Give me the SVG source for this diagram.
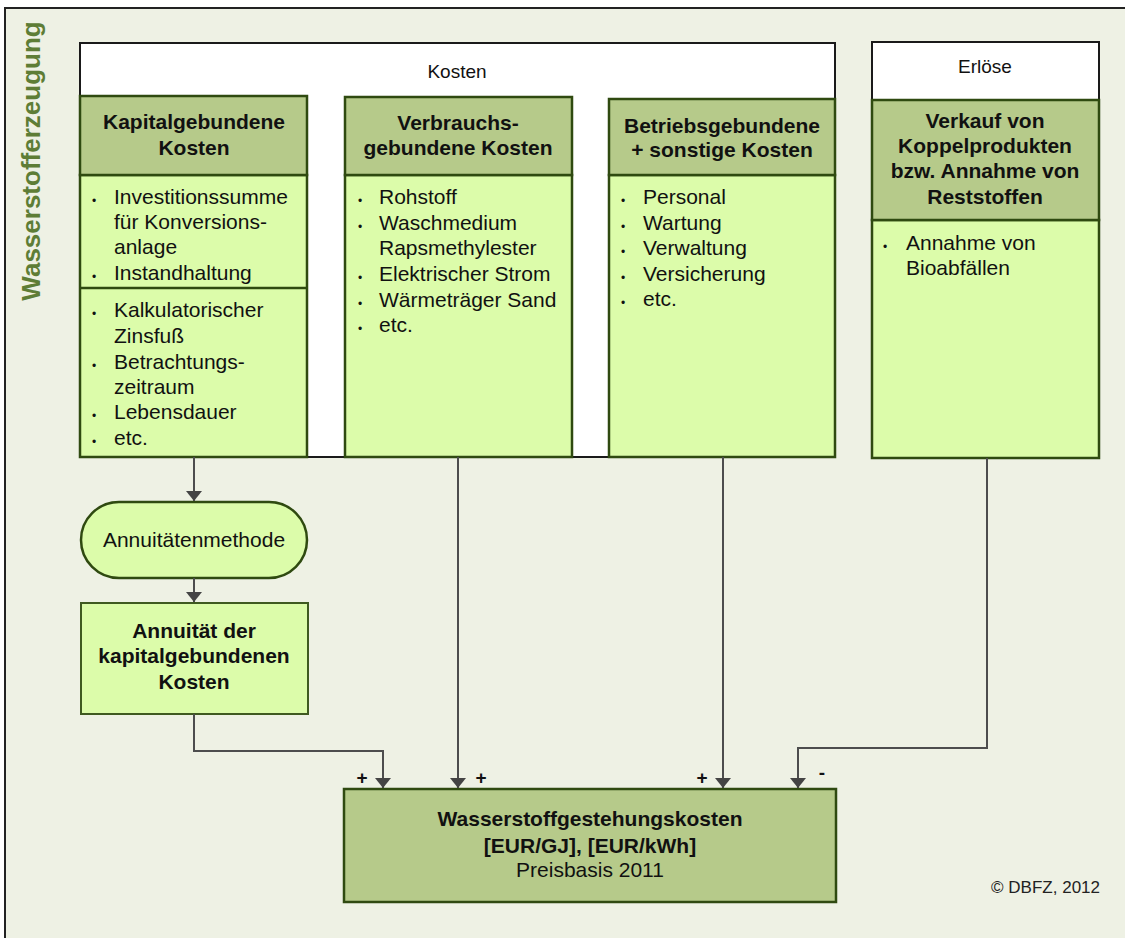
<svg xmlns="http://www.w3.org/2000/svg" width="1125" height="938" viewBox="0 0 1125 938">
<defs>
<style>
text{font-family:"Liberation Sans",Arial,sans-serif;fill:#111}
.b{font-weight:bold;font-size:21px}
.r{font-size:21px}
.c{text-anchor:middle}
.bul{font-size:12px}
.hdr{fill:#B6CA8A;stroke:#2F4A10;stroke-width:2.5}
.body{fill:#DCFCAA;stroke:#2F4A10;stroke-width:2.5}
.wh{fill:#FFFFFF;stroke:#1A1A1A;stroke-width:2}
.ln{fill:none;stroke:#4D4D4D;stroke-width:2}
.sg{font-size:19px;font-weight:bold}
</style>
<marker id="ah" markerUnits="userSpaceOnUse" markerWidth="18" markerHeight="12" viewBox="0 0 18 12" refX="9" refY="11" orient="0">
<path d="M1,1 L17,1 L9,11 Z" fill="#444444"/>
</marker>
</defs>

<g id="frame">
<rect x="5" y="8" width="1130" height="940" fill="#EEF1E4" stroke="#222222" stroke-width="2"/>
<text x="0" y="0" transform="translate(40,161) rotate(-90)" class="c" style="font-size:26px;font-weight:bold;fill:#5E7D36">Wasserstofferzeugung</text>
</g>

<g id="kosten">
<rect class="wh" x="80" y="43" width="755" height="414"/>
<text class="r c" x="457" y="78" style="font-size:19px">Kosten</text>
</g>

<g id="kapital">
<rect class="body" x="80" y="175" width="227" height="282"/>
<rect class="hdr" x="80" y="96" width="227" height="79"/>
<line x1="80" y1="288" x2="307" y2="288" stroke="#2F4A10" stroke-width="2.5"/>
<text class="b c" x="194" y="129">Kapitalgebundene</text>
<text class="b c" x="194" y="155">Kosten</text>
<g class="bul"><text x="92" y="205">•</text><text x="92" y="281">•</text><text x="92" y="318">•</text><text x="92" y="370">•</text><text x="92" y="420">•</text><text x="92" y="446">•</text></g>
<text class="r" x="114" y="204">Investitionssumme</text>
<text class="r" x="114" y="229">für Konversions-</text>
<text class="r" x="114" y="254">anlage</text>
<text class="r" x="114" y="280">Instandhaltung</text>
<text class="r" x="114" y="317">Kalkulatorischer</text>
<text class="r" x="114" y="343">Zinsfuß</text>
<text class="r" x="114" y="369">Betrachtungs-</text>
<text class="r" x="114" y="394">zeitraum</text>
<text class="r" x="114" y="419">Lebensdauer</text>
<text class="r" x="114" y="445">etc.</text>
</g>

<g id="verbrauch">
<rect class="body" x="345" y="175" width="227" height="282"/>
<rect class="hdr" x="345" y="97" width="227" height="78"/>
<text class="b c" x="458" y="130">Verbrauchs-</text>
<text class="b c" x="458" y="155">gebundene Kosten</text>
<g class="bul"><text x="358" y="205">•</text><text x="358" y="231">•</text><text x="358" y="282">•</text><text x="358" y="308">•</text><text x="358" y="333">•</text></g>
<text class="r" x="379" y="204">Rohstoff</text>
<text class="r" x="379" y="230">Waschmedium</text>
<text class="r" x="379" y="255">Rapsmethylester</text>
<text class="r" x="379" y="281">Elektrischer Strom</text>
<text class="r" x="379" y="307">Wärmeträger Sand</text>
<text class="r" x="379" y="332">etc.</text>
</g>

<g id="betrieb">
<rect class="body" x="609" y="175" width="226" height="282"/>
<rect class="hdr" x="609" y="99" width="226" height="76"/>
<text class="b c" x="722" y="133">Betriebsgebundene</text>
<text class="b c" x="722" y="157">+ sonstige Kosten</text>
<g class="bul"><text x="621" y="205">•</text><text x="621" y="231">•</text><text x="621" y="256">•</text><text x="621" y="282">•</text><text x="621" y="307">•</text></g>
<text class="r" x="643" y="204">Personal</text>
<text class="r" x="643" y="230">Wartung</text>
<text class="r" x="643" y="255">Verwaltung</text>
<text class="r" x="643" y="281">Versicherung</text>
<text class="r" x="643" y="306">etc.</text>
</g>

<g id="erloese">
<rect class="wh" x="872" y="42" width="227" height="58"/>
<text class="r c" x="985" y="73" style="font-size:19px">Erlöse</text>
<rect class="body" x="872" y="220" width="227" height="238"/>
<rect class="hdr" x="872" y="100" width="227" height="120"/>
<text class="b c" x="985" y="128">Verkauf von</text>
<text class="b c" x="985" y="153">Koppelprodukten</text>
<text class="b c" x="985" y="178">bzw. Annahme von</text>
<text class="b c" x="985" y="204">Reststoffen</text>
<text class="bul" x="883" y="251">•</text>
<text class="r" x="906" y="250">Annahme von</text>
<text class="r" x="906" y="275">Bioabfällen</text>
</g>

<g id="annuitaetenmethode">
<rect x="81" y="502" width="226" height="76" rx="38" ry="38" fill="#DCFCAA" stroke="#2F4A10" stroke-width="2.5"/>
<text class="r c" x="194" y="547">Annuitätenmethode</text>
</g>

<g id="annuitaet">
<rect x="81" y="603" width="227" height="111" fill="#DCFCAA" stroke="#3F5A20" stroke-width="2"/>
<text class="b c" x="194" y="638">Annuität der</text>
<text class="b c" x="194" y="663">kapitalgebundenen</text>
<text class="b c" x="194" y="689">Kosten</text>
</g>

<g id="gestehungskosten">
<rect x="344" y="789" width="492" height="113" fill="#B6CA8A" stroke="#2F4A10" stroke-width="2.5"/>
<text class="b c" x="590" y="826">Wasserstoffgestehungskosten</text>
<text class="b c" x="590" y="853">[EUR/GJ], [EUR/kWh]</text>
<text class="r c" x="590" y="877">Preisbasis 2011</text>
</g>

<g id="connectors">
<path class="ln" d="M194,457 V501" marker-end="url(#ah)"/>
<path class="ln" d="M194,578 V602" marker-end="url(#ah)"/>
<path class="ln" d="M194,714 V751 H383 V788" marker-end="url(#ah)"/>
<path class="ln" d="M458,457 V788" marker-end="url(#ah)"/>
<path class="ln" d="M723,457 V788" marker-end="url(#ah)"/>
<path class="ln" d="M987,458 V748 H798 V788" marker-end="url(#ah)"/>
<text class="sg c" x="362" y="784">+</text>
<text class="sg c" x="481" y="784">+</text>
<text class="sg c" x="702" y="784">+</text>
<text class="sg c" x="822" y="779">-</text>
</g>

<text x="1100" y="893" style="font-size:17px;text-anchor:end;fill:#222">© DBFZ, 2012</text>
</svg>
